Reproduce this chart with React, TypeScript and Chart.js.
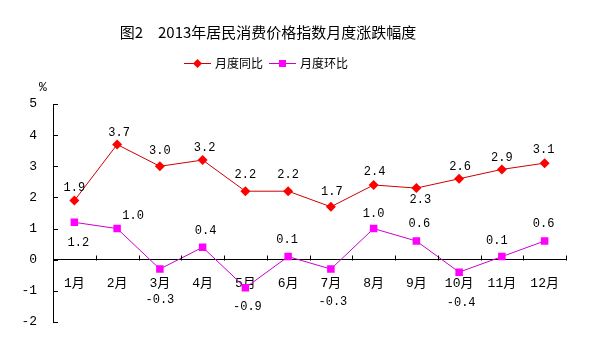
import React, { useEffect, useRef } from "react";
import { Chart, registerables } from "chart.js";

Chart.register(...registerables);

const titleText = "图2　2013年居民消费价格指数月度涨跌幅度";
const months = ["1月", "2月", "3月", "4月", "5月", "6月", "7月", "8月", "9月", "10月", "11月", "12月"];
const yoyName = "月度同比";
const momName = "月度环比";
const yoyValues = [1.9, 3.7, 3.0, 3.2, 2.2, 2.2, 1.7, 2.4, 2.3, 2.6, 2.9, 3.1];
const momValues = [1.2, 1.0, -0.3, 0.4, -0.9, 0.1, -0.3, 1.0, 0.6, -0.4, 0.1, 0.6];
const yTicks = [-2, -1, 0, 1, 2, 3, 4, 5];

// label offsets relative to point [dx, dy] (style config)
const yoyLabelOffsets = [
  [0, -13], [2, -12], [0, -15], [2, -12], [0, -16], [0, -16],
  [1, -15], [1, -13], [4, 12], [1, -12], [0, -12], [-1, -13],
];
const momLabelOffsets = [
  [4, 20], [16, -13], [0, 31], [3, -16], [2, 19], [-1, -17],
  [2, 33], [0, -15], [3, -17], [2, 31], [-5, -16], [-1, -17],
];

const RED_LINE = "#CC0000";
const RED = "#FF0000";
const MAG_LINE = "#CC00CC";
const MAG = "#FF00FF";
const NUM_FONT = "12px 'Liberation Mono', 'Noto Sans CJK SC', monospace";
const CJK = "'Noto Sans CJK SC', sans-serif";

const decorPlugin = {
  id: "decor",
  afterDraw(chart: any) {
    const ctx = chart.ctx;
    const x = chart.scales.x;
    const y = chart.scales.y;
    const area = chart.chartArea;
    ctx.save();
    // tick marks
    ctx.strokeStyle = "#000";
    ctx.lineWidth = 1;
    ctx.beginPath();
    yTicks.forEach((v) => {
      const py = Math.round(y.getPixelForValue(v)) + 0.5;
      ctx.moveTo(area.left, py);
      ctx.lineTo(area.left + 5, py);
    });
    const zero = Math.round(y.getPixelForValue(0)) + 0.5;
    const n = months.length;
    for (let i = 0; i <= n; i++) {
      const px = Math.round(area.left + (i * (area.right - area.left)) / n) + 0.5;
      ctx.moveTo(px, zero);
      ctx.lineTo(px, zero - 5);
    }
    ctx.stroke();

    // data labels
    ctx.fillStyle = "#000";
    ctx.font = NUM_FONT;
    ctx.textAlign = "center";
    ctx.textBaseline = "middle";
    const offs = [yoyLabelOffsets, momLabelOffsets];
    chart.data.datasets.forEach((ds: any, di: number) => {
      const meta = chart.getDatasetMeta(di);
      meta.data.forEach((pt: any, i: number) => {
        const v = ds.data[i] as number;
        const [dx, dy] = offs[di][i];
        ctx.fillText(v.toFixed(1), pt.x + dx, pt.y + dy);
      });
    });

    // title
    ctx.font = `15px ${CJK}`;
    ctx.fillStyle = "#000";
    ctx.fillText(titleText, 268, 32);

    // legend
    const drawItem = (x0: number, lineC: string, markC: string, style: string, label: string) => {
      ctx.strokeStyle = lineC;
      ctx.beginPath();
      ctx.moveTo(x0, 63.5);
      ctx.lineTo(x0 + 27, 63.5);
      ctx.stroke();
      ctx.fillStyle = markC;
      const cx = x0 + 13.5;
      ctx.beginPath();
      if (style === "d") {
        ctx.moveTo(cx, 59);
        ctx.lineTo(cx + 4.5, 63.5);
        ctx.lineTo(cx, 68);
        ctx.lineTo(cx - 4.5, 63.5);
        ctx.closePath();
      } else {
        ctx.rect(cx - 3.5, 60, 7, 7);
      }
      ctx.fill();
      ctx.fillStyle = "#000";
      ctx.font = `12px ${CJK}`;
      ctx.textAlign = "left";
      ctx.fillText(label, x0 + 31, 63.5);
    };
    drawItem(184, RED_LINE, RED, "d", yoyName);
    drawItem(269, MAG_LINE, MAG, "s", momName);

    // unit
    ctx.textAlign = "center";
    ctx.font = `13px 'Liberation Mono', monospace`;
    ctx.fillText("%", 43, 88);
    ctx.restore();
  },
};

export default function App() {
  const ref = useRef<HTMLCanvasElement>(null);
  useEffect(() => {
    document.body.style.margin = "0";
    const chart = new Chart(ref.current as HTMLCanvasElement, {
      type: "line",
      data: {
        labels: months,
        datasets: [
          {
            label: yoyName,
            data: yoyValues,
            borderColor: RED_LINE,
            borderWidth: 1,
            backgroundColor: RED,
            pointStyle: "rectRot",
            pointRadius: 5,
            pointBorderWidth: 0,
            pointBackgroundColor: RED,
            tension: 0,
          },
          {
            label: momName,
            data: momValues,
            borderColor: MAG_LINE,
            borderWidth: 1,
            backgroundColor: MAG,
            pointStyle: "rect",
            pointRadius: 5.3,
            pointBorderWidth: 0,
            pointBackgroundColor: MAG,
            tension: 0,
          },
        ],
      },
      options: {
        responsive: false,
        animation: false,
        layout: { padding: { top: 104, bottom: 32, right: 27, left: 0 } },
        plugins: {
          legend: { display: false },
          title: { display: false },
          tooltip: { enabled: false },
        },
        scales: {
          x: {
            type: "category",
            position: { y: 0 } as any,
            offset: true,
            grid: { drawOnChartArea: false, drawTicks: false },
            border: { display: true, color: "#000", width: 1 },
            ticks: {
              color: "#000",
              font: { size: 13, family: "'Liberation Mono', 'Noto Sans CJK SC', monospace" },
              padding: 16,
              maxRotation: 0,
              autoSkip: false,
            },
          },
          y: {
            min: -2,
            max: 5,
            afterFit(scale: any) {
              scale.width = 53;
            },
            grid: { drawOnChartArea: false, drawTicks: false },
            border: { display: true, color: "#000", width: 1 },
            ticks: {
              stepSize: 1,
              color: "#000",
              padding: 16,
              font: { size: 13, family: "'Liberation Mono', monospace" },
            },
          },
        },
      },
      plugins: [decorPlugin],
    });
    return () => chart.destroy();
  }, []);
  return (
    <div style={{ width: 593, height: 354, background: "#fff" }}>
      <canvas ref={ref} width={593} height={354} style={{ display: "block" }} />
    </div>
  );
}
